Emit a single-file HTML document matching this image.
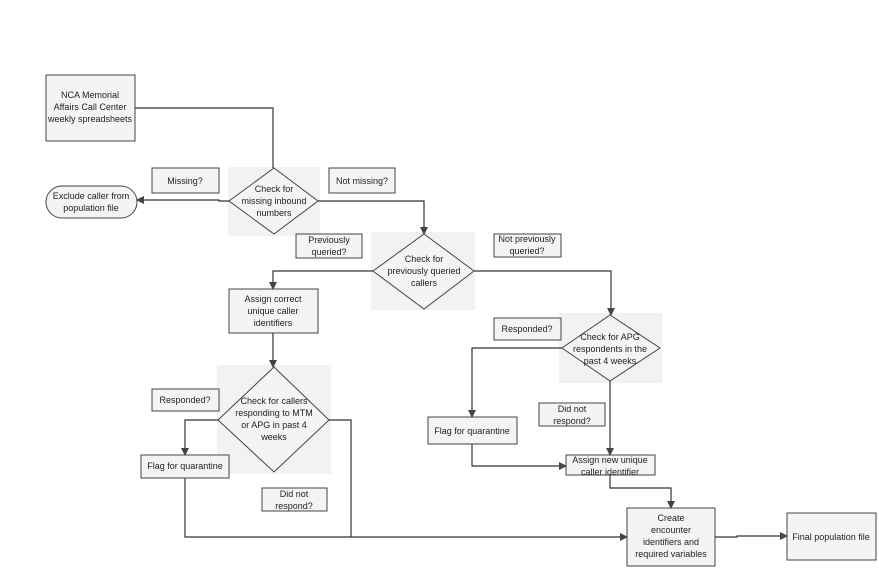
<!DOCTYPE html>
<html><head><style>body{margin:0;background:#fff}svg{display:block}text{font-family:"Liberation Sans",sans-serif;font-size:9px;fill:#222;text-anchor:middle}</style></head><body>
<svg width="879" height="569" viewBox="0 0 879 569">
<defs><marker id="a" markerWidth="8" markerHeight="8" refX="7" refY="4" orient="auto" markerUnits="userSpaceOnUse"><path d="M0,0 L8,4 L0,8z" fill="#444"/></marker></defs>
<g fill="#f2f2f2">
<rect x="228" y="167" width="92" height="69"/><rect x="371" y="232" width="104" height="78"/><rect x="559" y="313" width="103" height="70"/><rect x="217" y="365" width="114" height="109"/>
</g>
<g fill="#f4f4f4" stroke="#444" stroke-width="1">
<rect x="46" y="75" width="89" height="66"/>
<rect x="46" y="186" width="91" height="32" rx="16"/>
<rect x="152" y="168" width="67" height="25"/>
<rect x="329" y="168" width="66" height="25"/>
<rect x="296" y="234" width="66" height="24"/>
<rect x="494" y="234" width="67" height="23"/>
<rect x="229" y="289" width="89" height="44"/>
<rect x="494" y="318" width="67" height="22"/>
<rect x="428" y="417" width="89" height="27"/>
<rect x="539" y="403" width="66" height="23"/>
<rect x="566" y="455" width="89" height="20"/>
<rect x="627" y="508" width="88" height="58"/>
<rect x="787" y="513" width="89" height="47"/>
<rect x="152" y="389" width="67" height="22"/>
<rect x="141" y="455" width="88" height="23"/>
<rect x="262" y="488" width="65" height="23"/>
<path d="M274,168 L318,201 L274,234 L229,201z"/>
<path d="M424,234 L474,271 L424,309 L373,271z"/>
<path d="M610,315 L660,348 L610,381 L562,348z"/>
<path d="M274,367 L329,420 L274,472 L218,420z"/>
</g>
<g fill="none" stroke="#333" stroke-width="1.2">
<path d="M135,108 H273 V168"/>
<path d="M229,201 H219 V200 H137" marker-end="url(#a)"/>
<path d="M318,201 H424 V234" marker-end="url(#a)"/>
<path d="M373,271 H273 V289" marker-end="url(#a)"/>
<path d="M474,271 H611 V315" marker-end="url(#a)"/>
<path d="M562,348 H472 V417" marker-end="url(#a)"/>
<path d="M610,381 V455" marker-end="url(#a)"/>
<path d="M472,444 V466 H566" marker-end="url(#a)"/>
<path d="M610,475 V488 H671 V508" marker-end="url(#a)"/>
<path d="M715,537 H737 V536 H787" marker-end="url(#a)"/>
<path d="M273,333 V367" marker-end="url(#a)"/>
<path d="M218,420 H185 V455" marker-end="url(#a)"/>
<path d="M185,478 V537 H627" marker-end="url(#a)"/>
<path d="M329,420 H351 V537"/>
</g>
<text x="90" y="98">NCA Memorial</text><text x="90" y="110">Affairs Call Center</text><text x="90" y="122">weekly spreadsheets</text>
<text x="91" y="199">Exclude caller from</text><text x="91" y="211">population file</text>
<text x="185" y="184">Missing?</text><text x="362" y="184">Not missing?</text>
<text x="274" y="192">Check for</text><text x="274" y="204">missing inbound</text><text x="274" y="216">numbers</text>
<text x="329" y="243">Previously</text><text x="329" y="255">queried?</text>
<text x="527" y="242">Not previously</text><text x="527" y="254">queried?</text>
<text x="424" y="262">Check for</text><text x="424" y="274">previously queried</text><text x="424" y="286">callers</text>
<text x="273" y="302">Assign correct</text><text x="273" y="314">unique caller</text><text x="273" y="326">identifiers</text>
<text x="527" y="332">Responded?</text>
<text x="610" y="340">Check for APG</text><text x="610" y="352">respondents in the</text><text x="610" y="364">past 4 weeks</text>
<text x="472" y="434">Flag for quarantine</text>
<text x="572" y="412">Did not</text><text x="572" y="424">respond?</text>
<text x="610" y="463">Assign new unique</text><text x="610" y="475">caller identifier</text>
<text x="671" y="521">Create</text><text x="671" y="533">encounter</text><text x="671" y="545">identifiers and</text><text x="671" y="557">required variables</text>
<text x="831" y="540">Final population file</text>
<text x="185" y="403">Responded?</text>
<text x="274" y="404">Check for callers</text><text x="274" y="416">responding to MTM</text><text x="274" y="428">or APG in past 4</text><text x="274" y="440">weeks</text>
<text x="185" y="469">Flag for quarantine</text>
<text x="294" y="497">Did not</text><text x="294" y="509">respond?</text>
</svg>
</body></html>
